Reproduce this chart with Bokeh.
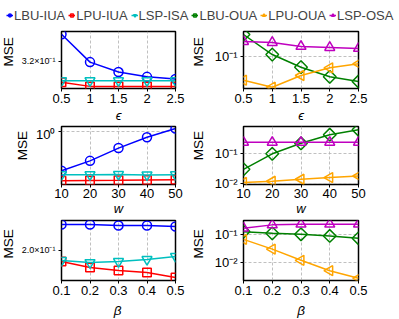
import math
from bokeh.plotting import figure
from bokeh.layouts import column, row
from bokeh.models import Range1d, FixedTicker, Legend, LegendItem, Label
from bokeh.embed import file_html
from bokeh.resources import INLINE

# ---------------- data ----------------
eps = [0.5, 1, 1.5, 2, 2.5]
eps_labels = ["0.5", "1", "1.5", "2", "2.5"]
w_vals = [10, 20, 30, 40, 50]
w_labels = ["10", "20", "30", "40", "50"]
beta = [0.1, 0.2, 0.3, 0.4, 0.5]
beta_labels = ["0.1", "0.2", "0.3", "0.4", "0.5"]

# row 1: MSE vs epsilon
eps_lbu_iua = [0.365, 0.319, 0.304, 0.297, 0.294]
eps_lpu_iua = [0.2894, 0.2836, 0.2836, 0.2836, 0.2836]
eps_lsp_isa = [0.2916, 0.2916, 0.2916, 0.2916, 0.2916]
eps_lbu_oua = [0.349, 0.110, 0.0531, 0.0305, 0.0233]
eps_lpu_oua = [0.0251, 0.0168, 0.0329, 0.0513, 0.0646]
eps_lsp_osa = [0.233, 0.220, 0.175, 0.165, 0.156]

# row 2: MSE vs w
w_lbu_iua = [0.371, 0.475, 0.654, 0.856, 1.069]
w_lpu_iua = [0.288, 0.290, 0.292, 0.295, 0.297]
w_lsp_isa = [0.336, 0.336, 0.338, 0.334, 0.336]
w_lbu_oua = [0.030, 0.100, 0.226, 0.44, 0.645]
w_lpu_oua = [0.0108, 0.0119, 0.0139, 0.0158, 0.0179]
w_lsp_osa = [0.244, 0.244, 0.244, 0.244, 0.244]

# row 3: MSE vs beta
b_lbu_iua = [0.2258, 0.2258, 0.2247, 0.2247, 0.2237]
b_lpu_iua = [0.190, 0.1848, 0.1822, 0.1805, 0.1763]
b_lsp_isa = [0.1909, 0.1891, 0.1900, 0.1918, 0.1945]
b_lbu_oua = [0.132, 0.115, 0.106, 0.092, 0.0757]
b_lpu_oua = [0.0695, 0.0307, 0.0121, 0.0051, 0.00273]
b_lsp_osa = [0.176, 0.232, 0.246, 0.246, 0.246]

series_names = ["LBU-IUA", "LPU-IUA", "LSP-ISA", "LBU-OUA", "LPU-OUA", "LSP-OSA"]
legend_series = [eps_lbu_iua, eps_lpu_iua, eps_lsp_isa, eps_lbu_oua, eps_lpu_oua, eps_lsp_osa]

# y-axis ticks and labels
eps_in_yticks, eps_in_ylabels = [0.32], ["3.2×10⁻¹"]
eps_out_yticks, eps_out_ylabels = [0.1], ["10⁻¹"]
w_in_yticks, w_in_ylabels = [1.0], ["10⁰"]
w_out_yticks, w_out_ylabels = [0.01, 0.1], ["10⁻²", "10⁻¹"]
b_in_yticks, b_in_ylabels = [0.2], ["2.0×10⁻¹"]
b_out_yticks, b_out_ylabels = [0.01, 0.1], ["10⁻²", "10⁻¹"]

y_title = "MSE"
x_titles = ["ϵ", "w", "β"]

# ---------------- styling ----------------
FONT = "Liberation Sans"
STYLE = {
    "LBU-IUA": dict(color="#0000ff", marker="circle", angle=0.0, size=9),
    "LPU-IUA": dict(color="#ff0000", marker="square", angle=0.0, size=8.5),
    "LSP-ISA": dict(color="#00bfbf", marker="inverted_triangle", angle=0.0, size=10),
    "LBU-OUA": dict(color="#008000", marker="square", angle=math.pi / 4, size=9),
    "LPU-OUA": dict(color="#ffa500", marker="triangle", angle=math.pi / 2, size=10),
    "LSP-OSA": dict(color="#bf00bf", marker="triangle", angle=0.0, size=10),
}

TOTAL_W = 399


def make_cell(xs, xticks, xlabels, series, yrange, yticks, ylabels,
              small_y, width, left, right, height, top, bottom, x_standoff,
              xtitle=None, xtitle_standoff=0):
    p = figure(width=width, height=height,
               x_range=Range1d(xs[0], xs[-1]), y_range=Range1d(*yrange),
               y_axis_type="log", output_backend="svg", toolbar_location=None,
               min_border_left=left, min_border_right=right,
               min_border_top=top, min_border_bottom=bottom)
    p.background_fill_color = "white"
    p.border_fill_color = "white"
    p.outline_line_color = "black"
    p.outline_line_width = 1.5

    xt = FixedTicker(ticks=xticks)
    yt = FixedTicker(ticks=yticks)
    p.xaxis.ticker = xt
    p.yaxis.ticker = yt
    p.xgrid.ticker = xt
    p.ygrid.ticker = yt
    p.xaxis.major_label_overrides = {t: l for t, l in zip(xticks, xlabels)}
    p.yaxis.major_label_overrides = {t: l for t, l in zip(yticks, ylabels)}
    for ax in (p.xaxis, p.yaxis):
        ax.axis_line_color = None
        ax.major_tick_line_color = "black"
        ax.major_tick_line_width = 1
        ax.major_tick_out = 3
        ax.major_tick_in = 0
        ax.minor_tick_line_color = None
        ax.major_label_text_font = FONT
        ax.major_label_text_color = "black"
    p.xaxis.major_label_text_font_size = "13px"
    p.xaxis.major_label_standoff = x_standoff
    p.yaxis.major_label_standoff = 3
    p.yaxis.major_label_text_font_size = "9px" if small_y else "13px"
    if xtitle is not None:
        p.xaxis.axis_label = xtitle
        p.xaxis.axis_label_standoff = xtitle_standoff
        p.xaxis.axis_label_text_font = FONT
        p.xaxis.axis_label_text_font_style = "italic"
        p.xaxis.axis_label_text_font_size = "13px"
        p.xaxis.axis_label_text_color = "black"

    p.xgrid.grid_line_color = "#b0b0b0"
    p.xgrid.grid_line_dash = "3 2"
    p.xgrid.grid_line_width = 0.8
    if small_y:
        p.ygrid.visible = False
    else:
        p.ygrid.grid_line_color = "#b0b0b0"
        p.ygrid.grid_line_dash = "3 2"
        p.ygrid.grid_line_width = 0.8

    for name, ys in series:
        st = STYLE[name]
        p.line(xs, ys, line_color=st["color"], line_width=1.5)
        p.scatter(xs, ys, marker=st["marker"], angle=st["angle"], size=st["size"],
                  line_color=st["color"], line_width=1.5, fill_color=None)
    return p


def text_strip(width, height):
    s = figure(width=width, height=height, x_range=Range1d(0, width),
               y_range=Range1d(0, height), output_backend="svg",
               toolbar_location=None, min_border=0,
               x_axis_location=None, y_axis_location=None)
    s.grid.visible = False
    s.outline_line_color = None
    s.background_fill_color = "white"
    s.border_fill_color = "white"
    return s


def mse_strip(width, height, cx, cy):
    s = text_strip(width, height)
    s.add_layout(Label(x=cx, y=cy, text=y_title, angle=math.pi / 2,
                       text_align="center", text_baseline="middle",
                       text_font=FONT, text_font_size="13.5px", text_color="black"))
    return s


def xlabel_strip(height, text, base_y):
    s = text_strip(TOTAL_W, height)
    for cx in (117, 300.5):
        s.add_layout(Label(x=cx, y=base_y, text=text, text_align="center",
                           text_baseline="alphabetic", text_font=FONT,
                           text_font_style="italic", text_font_size="13.5px",
                           text_color="black"))
    return s


# page x: left frame 61-175, right frame 243-358; right MSE strip 190-205
LEFT_END = 190
RS_W = 15
RW, RL, RR = 194, 38, 41
LR = 15


def plot_row(h, top, bottom, x_standoff, ls_w, mse_left_cx, left_series, right_series,
             xs, xl, lrange, lticks, llabels, lsmall, rrange, rticks, rlabels,
             xtitle=None, xtitle_standoff=0):
    fh = h - top - bottom
    lw = LEFT_END - ls_w
    pl = make_cell(xs, xs, xl, left_series, lrange, lticks, llabels, lsmall,
                   lw, 61 - ls_w, LR, h, top, bottom, x_standoff, xtitle, xtitle_standoff)
    pr = make_cell(xs, xs, xl, right_series, rrange, rticks, rlabels, False,
                   RW, RL, RR, h, top, bottom, x_standoff, xtitle, xtitle_standoff)
    sl = mse_strip(ls_w, h, mse_left_cx, h - top - fh / 2)
    sr = mse_strip(RS_W, h, 7.5, h - top - fh / 2)
    return row(sl, pl, sr, pr, spacing=0)


# rows: page y 24-125 / 125-218 / 218-300
row1 = plot_row(101, 7, 36, 2, 14, 7.5,
                [("LBU-IUA", eps_lbu_iua), ("LPU-IUA", eps_lpu_iua), ("LSP-ISA", eps_lsp_isa)],
                [("LBU-OUA", eps_lbu_oua), ("LPU-OUA", eps_lpu_oua), ("LSP-OSA", eps_lsp_osa)],
                eps, eps_labels,
                (0.2807, 0.370), eps_in_yticks, eps_in_ylabels, True,
                (0.01558, 0.4146), eps_out_yticks, eps_out_ylabels,
                x_titles[0], 2)
row2 = plot_row(93, 1, 33, 1, 29, 22,
                [("LBU-IUA", w_lbu_iua), ("LPU-IUA", w_lpu_iua), ("LSP-ISA", w_lsp_isa)],
                [("LBU-OUA", w_lbu_oua), ("LPU-OUA", w_lpu_oua), ("LSP-OSA", w_lsp_osa)],
                w_vals, w_labels,
                (0.263, 1.122), w_in_yticks, w_in_ylabels, False,
                (0.00926, 0.832), w_out_yticks, w_out_ylabels,
                x_titles[1], 0)
row3 = plot_row(82, 2, 20, 2, 14, 7.5,
                [("LBU-IUA", b_lbu_iua), ("LPU-IUA", b_lpu_iua), ("LSP-ISA", b_lsp_isa)],
                [("LBU-OUA", b_lbu_oua), ("LPU-OUA", b_lpu_oua), ("LSP-OSA", b_lsp_osa)],
                beta, beta_labels,
                (0.1739, 0.23), b_in_yticks, b_in_ylabels, True,
                (0.00225, 0.334), b_out_yticks, b_out_ylabels)

xs3 = xlabel_strip(19, x_titles[2], 9.5)   # page y 300-319

# ---------------- legend strip ----------------
leg = figure(width=TOTAL_W, height=24, x_range=Range1d(1000, 1001), y_range=Range1d(1000, 1001),
             output_backend="svg", toolbar_location=None, min_border=0,
             x_axis_location=None, y_axis_location=None)
leg.grid.visible = False
leg.outline_line_color = None
items = []
for name, ys in zip(series_names, legend_series):
    st = STYLE[name]
    lr = leg.line(x=eps, y=ys, line_color=st["color"], line_width=1.5)
    sr = leg.scatter(x=eps, y=ys, marker=st["marker"], angle=st["angle"], size=6,
                     line_color=st["color"], line_width=1.5, fill_color=None)
    items.append(LegendItem(label=name, renderers=[lr, sr]))
legend = Legend(items=items, orientation="horizontal", location=(6, 1.5),
                glyph_width=7, glyph_height=14, label_height=14, label_standoff=1,
                spacing=3, padding=0, margin=0, border_line_color=None,
                background_fill_alpha=0, label_text_font=FONT,
                label_text_font_size="13px")
leg.add_layout(legend, "center")

layout = column(leg, row1, row2, row3, xs3, spacing=0)

with open("out.html", "w") as f:
    f.write(file_html(layout, INLINE))
